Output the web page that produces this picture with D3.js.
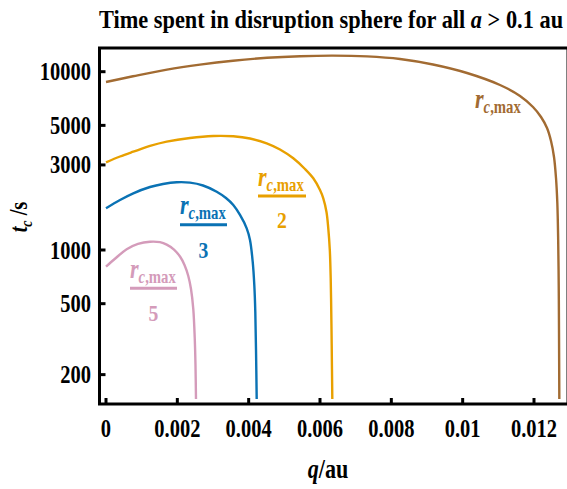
<!DOCTYPE html>
<html>
<head>
<meta charset="utf-8">
<script src="https://cdn.jsdelivr.net/npm/d3@7"></script>
<style>
  html, body { margin: 0; padding: 0; background: #fff; }
  svg { display: block; }
  text { font-family: "Liberation Serif", "Times New Roman", serif; font-weight: bold; }
</style>
</head>
<body>
<svg id="chart" width="567" height="489"></svg>
<script>
// Crossing time t_c (s) versus perihelion distance q (au), one curve per sphere radius
const qFull  = [0, 0.000757, 0.00171, 0.002635, 0.003561, 0.004514, 0.005439, 0.006364, 0.007318, 0.008243, 0.009168, 0.010122, 0.011047, 0.011608, 0.011972, 0.012197, 0.012365, 0.012477, 0.012561, 0.012617, 0.012654, 0.012678, 0.012693, 0.012701, 0.01271];
const tFull  = [8754, 9424, 10276, 10959, 11527, 11967, 12216, 12312, 12185, 11782, 10974, 9833, 8422, 7306, 6339, 5569, 4833, 4087, 3323, 2534, 1835, 1138, 636, 356, 146];

const qHalf  = [0, 0.000393, 0.000765, 0.001234, 0.001702, 0.002355, 0.003008, 0.003569, 0.004037, 0.004505, 0.004878, 0.005251, 0.005579, 0.005812, 0.006, 0.006092, 0.006182, 0.006232, 0.006275, 0.0063, 0.006319, 0.006328, 0.006345];
const tHalf  = [3104, 3345, 3558, 3832, 4050, 4249, 4360, 4343, 4221, 3967, 3662, 3268, 2847, 2524, 2171, 1950, 1634, 1323, 1000, 694, 405, 293, 146];

const qThird = [0, 0.000393, 0.000765, 0.001234, 0.001598, 0.001982, 0.002355, 0.00272, 0.003104, 0.003364, 0.003569, 0.003757, 0.003945, 0.004037, 0.004113, 0.004158, 0.004186, 0.004206, 0.004225];
const tThird = [1714, 1908, 2080, 2256, 2346, 2398, 2386, 2300, 2123, 1957, 1788, 1572, 1323, 1138, 860, 636, 451, 275, 146];

const qFifth = [0, 0.000252, 0.00058, 0.000897, 0.001234, 0.001514, 0.001702, 0.001907, 0.002075, 0.002201, 0.002307, 0.002383, 0.002447, 0.00249, 0.002509, 0.002523];
const tFifth = [806, 893, 1010, 1082, 1113, 1106, 1072, 1006, 919, 824, 715, 604, 467, 313, 226, 146];

const xTicks = [0, 0.002, 0.004, 0.006, 0.008, 0.01, 0.012];
const xTickLabels = ["0", "0.002", "0.004", "0.006", "0.008", "0.01", "0.012"];
const yTicks = [200, 500, 1000, 3000, 5000, 10000];
const yTickLabels = ["200", "500", "1000", "3000", "5000", "10000"];

const series = [
  { q: qFull,  t: tFull,  color: "#A26B32", denom: null },
  { q: qHalf,  t: tHalf,  color: "#E8A000", denom: "2" },
  { q: qThird, t: tThird, color: "#0A72B4", denom: "3" },
  { q: qFifth, t: tFifth, color: "#D49BBA", denom: "5" }
];

const svg = d3.select("#chart");
const frame = { left: 99.5, right: 568, top: 48, bottom: 404 };

const x = d3.scaleLinear().domain([0, 0.012]).range([106, 534]);
const y = d3.scaleLog().domain([1000, 10000]).range([250, 71.7]);

const SX = 0.82; // horizontal condensing of the lettering

function label(px, py, size, anchor, parts, rotate, sx) {
  const g = svg.append("g")
    .attr("transform", `translate(${px},${py})` + (rotate ? ` rotate(${rotate})` : "") + ` scale(${sx || SX},1)`);
  const t = g.append("text").attr("text-anchor", anchor).attr("font-size", size);
  parts.forEach(p => {
    const s = t.append("tspan").text(p.text);
    if (p.italic) s.attr("font-style", "italic");
    if (p.size) s.attr("font-size", p.size);
    if (p.dy) s.attr("dy", p.dy);
    if (p.fill) s.attr("fill", p.fill);
  });
  return t;
}

// clip curves to the frame
svg.append("defs").append("clipPath").attr("id", "plotClip")
  .append("rect")
  .attr("x", frame.left).attr("y", frame.top)
  .attr("width", frame.right - frame.left).attr("height", frame.bottom - frame.top);

const line = d3.line()
  .x(d => x(d[0]))
  .y(d => y(d[1]))
  .curve(d3.curveCatmullRom.alpha(0.5));

const curves = svg.append("g").attr("clip-path", "url(#plotClip)");
series.forEach(s => {
  curves.append("path")
    .datum(d3.zip(s.q, s.t))
    .attr("d", line)
    .attr("fill", "none")
    .attr("stroke", s.color)
    .attr("stroke-width", 2.4)
    .attr("stroke-linejoin", "round");
});

// frame
svg.append("rect")
  .attr("x", frame.left).attr("y", frame.top)
  .attr("width", frame.right - frame.left).attr("height", frame.bottom - frame.top)
  .attr("fill", "none").attr("stroke", "#000").attr("stroke-width", 3);

// axes: ticks inside the frame, labels outside
const xAxis = d3.axisBottom(x).tickValues(xTicks).tickSize(0).tickFormat("");
const yAxis = d3.axisLeft(y).tickValues(yTicks).tickSize(0).tickFormat("");
svg.append("g").attr("transform", `translate(0,${frame.bottom})`).call(xAxis).select(".domain").remove();
svg.append("g").attr("transform", `translate(${frame.left},0)`).call(yAxis).select(".domain").remove();

xTicks.forEach(v => {
  svg.append("line")
    .attr("x1", x(v)).attr("x2", x(v))
    .attr("y1", frame.bottom).attr("y2", frame.bottom - 6)
    .attr("stroke", "#000").attr("stroke-width", 3);
});
yTicks.forEach(v => {
  svg.append("line")
    .attr("x1", frame.left).attr("x2", frame.left + 6)
    .attr("y1", y(v)).attr("y2", y(v))
    .attr("stroke", "#000").attr("stroke-width", 3);
});

xTicks.forEach((v, i) => label(x(v), 437, 25, "middle", [{ text: xTickLabels[i] }]));
yTicks.forEach((v, i) => label(91, y(v) + 8.5, 25, "end", [{ text: yTickLabels[i] }]));

// title and axis titles
label(331, 28, 26, "middle", [
  { text: "Time spent in disruption sphere for all " },
  { text: "a", italic: true },
  { text: " > 0.1 au" }
], null, 0.86);
label(328, 478, 27, "middle", [{ text: "q", italic: true }, { text: "/au" }]);
label(27, 217, 25, "middle", [
  { text: "t", italic: true },
  { text: "c", italic: true, size: 17, dy: 5 },
  { text: " /s", dy: -5 }
], -90);

// curve labels: r_c,max and its fractions
function rLabel(px, py, color) {
  return label(px, py, 27, "start", [
    { text: "r", italic: true, fill: color },
    { text: "c", italic: true, size: 18, dy: 5, fill: color },
    { text: ",max", size: 18, fill: color }
  ]);
}
const labelPos = [
  { x0: 475, base: 108, bar: null },
  { x0: 258, base: 186, bar: 196, x1: 306, dBase: 228 },
  { x0: 180, base: 214, bar: 224.7, x1: 227, dBase: 258 },
  { x0: 130, base: 278, bar: 288.3, x1: 177, dBase: 321 }
];
series.forEach((s, i) => {
  const p = labelPos[i];
  rLabel(p.x0, p.base, s.color);
  if (s.denom) {
    svg.append("line")
      .attr("x1", p.x0).attr("x2", p.x1)
      .attr("y1", p.bar).attr("y2", p.bar)
      .attr("stroke", s.color).attr("stroke-width", 3);
    label((p.x0 + p.x1) / 2, p.dBase, 24, "middle", [{ text: s.denom, fill: s.color }]);
  }
});
</script>
</body>
</html>
